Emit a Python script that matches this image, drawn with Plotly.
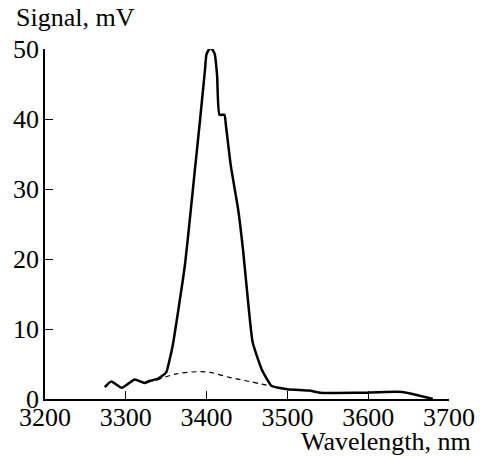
import plotly.graph_objects as go

# Solid curve: signal
wl_signal = [3274, 3282, 3295, 3311, 3323, 3330, 3340, 3350, 3354, 3358, 3373, 3386, 3392, 3398,
             3400, 3405, 3410, 3413, 3416, 3422, 3424, 3430, 3439, 3445, 3451, 3457, 3468, 3476,
             3480, 3500, 3527, 3540, 3589, 3642, 3680]
signal = [1.7, 2.5, 1.6, 2.8, 2.3, 2.6, 2.9, 3.8, 5.5, 7.6, 19, 33.3, 40, 47,
          49.3, 50.2, 49.3, 46.2, 40.6, 40.6, 39, 33.3, 27.1, 21.4, 14.3, 8.1, 4.3, 2.6,
          1.9, 1.4, 1.2, 0.9, 0.9, 1.0, 0]

# Dashed curve: background
wl_bg = [3338, 3363, 3391, 3404, 3428, 3453, 3478]
bg = [2.7, 3.6, 3.9, 3.8, 3.1, 2.5, 1.9]

x_ticks = [3200, 3300, 3400, 3500, 3600, 3700]
y_ticks = [0, 10, 20, 30, 40, 50]

FONT = "Liberation Serif"
FS = 26
TS = 26

fig = go.Figure()
fig.add_trace(go.Scatter(x=wl_signal, y=signal, mode="lines",
                         line=dict(color="black", width=2.5, shape="spline", smoothing=0.5),
                         showlegend=False, hoverinfo="skip"))
fig.add_trace(go.Scatter(x=wl_bg, y=bg, mode="lines",
                         line=dict(color="black", width=1.2, dash="5px,4px", shape="spline"),
                         showlegend=False, hoverinfo="skip"))

fig.update_layout(
    width=480, height=459,
    margin=dict(l=45, r=31, t=49, b=60),
    paper_bgcolor="white", plot_bgcolor="white",
    font=dict(family=FONT, size=FS, color="black"),
    xaxis=dict(range=[3200, 3700], tickvals=x_ticks, ticks="inside", ticklen=8, tickwidth=1.3,
               tickcolor="black", showline=True, linecolor="black", linewidth=1.5,
               showgrid=False, zeroline=False, automargin=False, ticklabelstandoff=-6,
               tickfont=dict(family=FONT, size=FS)),
    yaxis=dict(range=[0, 50], tickvals=y_ticks, ticks="inside", ticklen=8, tickwidth=1.3,
               tickcolor="black", showline=True, linecolor="black", linewidth=1.5,
               showgrid=False, zeroline=False, automargin=False, ticklabelstandoff=-1,
               tickfont=dict(family=FONT, size=FS)),
    annotations=[
        dict(text="Signal, mV", xref="paper", yref="paper", x=-31/404, y=1 + 32/350,
             xanchor="left", yanchor="middle", showarrow=False, font=dict(family=FONT, size=TS)),
        dict(text="Wavelength, nm", xref="paper", yref="paper", x=1 + 24/404, y=-42/350,
             xanchor="right", yanchor="middle", showarrow=False, font=dict(family=FONT, size=TS)),
    ],
)

# remove the page's default 8px body margin so the figure fills the window exactly
fig.write_html("out.html",
               config={"displayModeBar": False},
               post_script="document.body.style.margin='0px';document.body.style.overflow='hidden';")
